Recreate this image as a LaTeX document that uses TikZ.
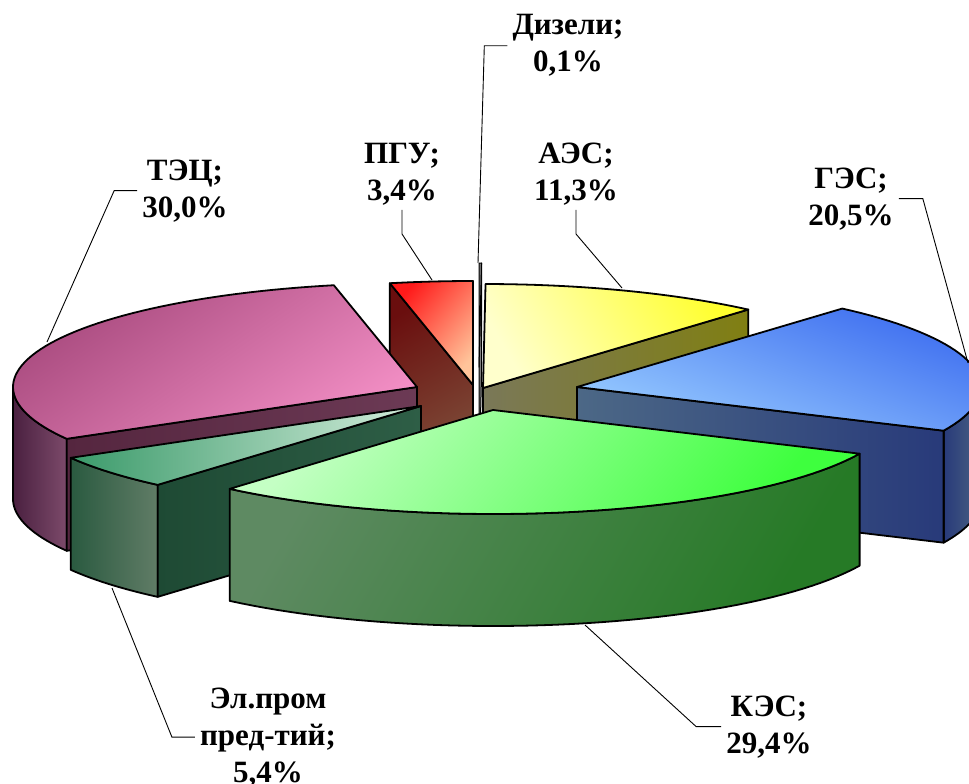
\documentclass[tikz,border=0pt]{standalone}
\usepackage{fontspec}
\setmainfont{Liberation Serif}
\usepackage{tikz}
\usetikzlibrary{calc}

\definecolor{tecdark}{HTML}{A84A7E}
\definecolor{teclight}{HTML}{F28EC4}
\definecolor{tecwallL}{HTML}{4A2040}
\definecolor{tecwallR}{HTML}{7C4A6A}
\definecolor{tecfaceL}{HTML}{55263F}
\definecolor{tecfaceR}{HTML}{6C3A55}
\definecolor{pgured}{HTML}{FF1A1A}
\definecolor{pgupeach}{HTML}{FFC49A}
\definecolor{pgudark}{HTML}{6A0E0E}
\definecolor{pgubrown}{HTML}{80553F}
\definecolor{aesyellow}{HTML}{FFFF2E}
\definecolor{aespale}{HTML}{FFFFCC}
\definecolor{aesfaceL}{HTML}{7A7858}
\definecolor{aesfaceR}{HTML}{807F12}
\definecolor{gesblue}{HTML}{3E6EF0}
\definecolor{geslight}{HTML}{98CCFF}
\definecolor{gesfaceL}{HTML}{4C6886}
\definecolor{gesfaceR}{HTML}{283A7A}
\definecolor{geswall}{HTML}{4A6282}
\definecolor{kespale}{HTML}{C4FFC4}
\definecolor{kesgreen}{HTML}{3EFF3E}
\definecolor{keswallL}{HTML}{5E8A62}
\definecolor{keswallR}{HTML}{267A26}
\definecolor{elpale}{HTML}{D6EEDD}
\definecolor{elgreen}{HTML}{3A9A6A}
\definecolor{elfaceL}{HTML}{1E4A34}
\definecolor{elfaceR}{HTML}{2E5E46}
\definecolor{elwallL}{HTML}{2A5A40}
\definecolor{elwallR}{HTML}{607C66}

\tikzset{slice/.style={draw=black,line width=1.8pt,line join=round}}
\tikzset{leader/.style={draw=black,line width=0.9pt}}
\tikzset{pielabel/.style={font=\fontsize{31}{37}\selectfont\bfseries,align=center,inner sep=5pt}}
\newcommand{\pieA}{404}
\newcommand{\pieB}{104}
\newcommand{\pieH}{112}

\begin{document}
\begin{tikzpicture}[x=1pt,y=-1pt]
  \useasboundingbox (0,0) rectangle (969,784);
  \clip (0,0) rectangle (969,784);

  % ПГУ
  \begin{scope}[shift={(473,385)}]
    \shadedraw[slice,top color=pgudark,bottom color=pgubrown,shading angle=30]
      (0,0) -- ({\pieA*sin(348.12)},{-\pieB*cos(348.12)}) -- ++(0,\pieH) -- (0,\pieH) -- cycle;
    \shadedraw[slice,top color=pgured,bottom color=pgupeach,shading angle=50]
      (0,0) -- plot[domain=348.12:360,samples=10] ({\pieA*sin(\x)},{-\pieB*cos(\x)}) -- cycle;
  \end{scope}

  % АЭС
  \begin{scope}[shift={(483,388)}]
    \shadedraw[slice,left color=aesfaceL,right color=aesfaceR]
      (0,0) -- ({\pieA*sin(41.04)},{-\pieB*cos(41.04)}) -- ++(0,\pieH) -- (0,\pieH) -- cycle;
    \shadedraw[slice,top color=aesyellow,bottom color=aespale,shading angle=-60]
      (0,0) -- plot[domain=0.36:41.04,samples=30] ({\pieA*sin(\x)},{-\pieB*cos(\x)}) -- cycle;
  \end{scope}

  % Дизели
  \begin{scope}[shift={(479,367)}]
    \filldraw[slice,line width=1pt,fill=gray]
      (0,0) -- ({\pieA*sin(0.36)},{-\pieB*cos(0.36)}) -- ++(0,\pieH) -- (0,\pieH) -- cycle;
    \filldraw[slice,line width=1pt,fill=gray]
      (0,0) -- (0,-\pieB) -- ({\pieA*sin(0.36)},{-\pieB*cos(0.36)}) -- cycle;
  \end{scope}

  % ТЭЦ
  \begin{scope}[shift={(417,387)}]
    \shadedraw[slice,left color=tecwallL,right color=tecwallR]
      plot[domain=240.12:270,samples=20] ({\pieA*sin(\x)},{-\pieB*cos(\x)})
      -- plot[domain=270:240.12,samples=20] ({\pieA*sin(\x)},{\pieH-\pieB*cos(\x)}) -- cycle;
    \shadedraw[slice,left color=tecfaceL,right color=tecfaceR]
      (0,0) -- ({\pieA*sin(240.12)},{-\pieB*cos(240.12)}) -- ++(0,\pieH) -- (0,\pieH) -- cycle;
    \shadedraw[slice,top color=tecdark,bottom color=teclight,shading angle=35]
      (0,0) -- plot[domain=240.12:348.12,samples=60] ({\pieA*sin(\x)},{-\pieB*cos(\x)}) -- cycle;
  \end{scope}

  % ГЭС
  \begin{scope}[shift={(577,387)}]
    \shadedraw[slice,left color=gesfaceR,right color=geswall]
      plot[domain=90:114.84,samples=20] ({\pieA*sin(\x)},{-\pieB*cos(\x)})
      -- plot[domain=114.84:90,samples=20] ({\pieA*sin(\x)},{\pieH-\pieB*cos(\x)}) -- cycle;
    \shadedraw[slice,left color=gesfaceL,right color=gesfaceR]
      (0,0) -- ({\pieA*sin(114.84)},{-\pieB*cos(114.84)}) -- ++(0,\pieH) -- (0,\pieH) -- cycle;
    \shadedraw[slice,top color=gesblue,bottom color=geslight,shading angle=-20]
      (0,0) -- plot[domain=41.04:114.84,samples=40] ({\pieA*sin(\x)},{-\pieB*cos(\x)}) -- cycle;
  \end{scope}

  % Эл.пром
  \begin{scope}[shift={(421,406)}]
    \shadedraw[slice,left color=elwallL,right color=elwallR]
      plot[domain=220.68:240.12,samples=15] ({\pieA*sin(\x)},{-\pieB*cos(\x)})
      -- plot[domain=240.12:220.68,samples=15] ({\pieA*sin(\x)},{\pieH-\pieB*cos(\x)}) -- cycle;
    \shadedraw[slice,left color=elfaceL,right color=elfaceR]
      (0,0) -- ({\pieA*sin(220.68)},{-\pieB*cos(220.68)}) -- ++(0,\pieH) -- (0,\pieH) -- cycle;
    \shadedraw[slice,left color=elgreen,right color=elpale]
      (0,0) -- plot[domain=220.68:240.12,samples=15] ({\pieA*sin(\x)},{-\pieB*cos(\x)}) -- cycle;
  \end{scope}

  % КЭС
  \begin{scope}[shift={(493,410)}]
    \shadedraw[slice,top color=keswallL,bottom color=keswallR,shading angle=60]
      plot[domain=114.84:220.68,samples=50] ({\pieA*sin(\x)},{-\pieB*cos(\x)})
      -- plot[domain=220.68:114.84,samples=50] ({\pieA*sin(\x)},{\pieH-\pieB*cos(\x)}) -- cycle;
    \shadedraw[slice,top color=kespale,bottom color=kesgreen,shading angle=50]
      (0,0) -- plot[domain=114.84:220.68,samples=50] ({\pieA*sin(\x)},{-\pieB*cos(\x)}) -- cycle;
  \end{scope}

  % labels (base = last line)
  \node[pielabel,anchor=base] (dizlab) at (568,72) {Дизели;\\0,1\%};
  \node[pielabel,anchor=base] (pgulab) at (402,200) {ПГУ;\\3,4\%};
  \node[pielabel,anchor=base] (aeslab) at (576,200) {АЭС;\\11,3\%};
  \node[pielabel,anchor=base] (teclab) at (185,217) {ТЭЦ;\\30,0\%};
  \node[pielabel,anchor=base] (geslab) at (851,225) {ГЭС;\\20,5\%};
  \node[pielabel,anchor=base] (kes) at (769,753) {КЭС;\\29,4\%};
  \node[pielabel,anchor=base] (ellab) at (268,782) {Эл.пром\\пред-тий;\\5,4\%};

  \coordinate (diztip) at (478,263);
  \coordinate (pgutip) at (432,280);
  \coordinate (aestip) at (622,288);
  \coordinate (tectip) at (47,342);
  \coordinate (gestip) at (968,363);
  \coordinate (kestip) at (585,625);
  \coordinate (eltip) at (112,588);

  \draw[leader] (dizlab.west) -- ++(-23,0) -- (diztip);
  \draw[leader] (pgulab.south) -- ++(0,24) -- (pgutip);
  \draw[leader] (aeslab.south) -- ++(0,24) -- (aestip);
  \draw[leader] (teclab.west) -- ++(-23,0) -- (tectip);
  \draw[leader] (geslab.east) -- ++(24,0) -- (gestip);
  \draw[leader] (kes.west) -- ++(-25,0) -- (kestip);
  \draw[leader] (ellab.west) -- ++(-23,0) -- (eltip);
\end{tikzpicture}
\end{document}
